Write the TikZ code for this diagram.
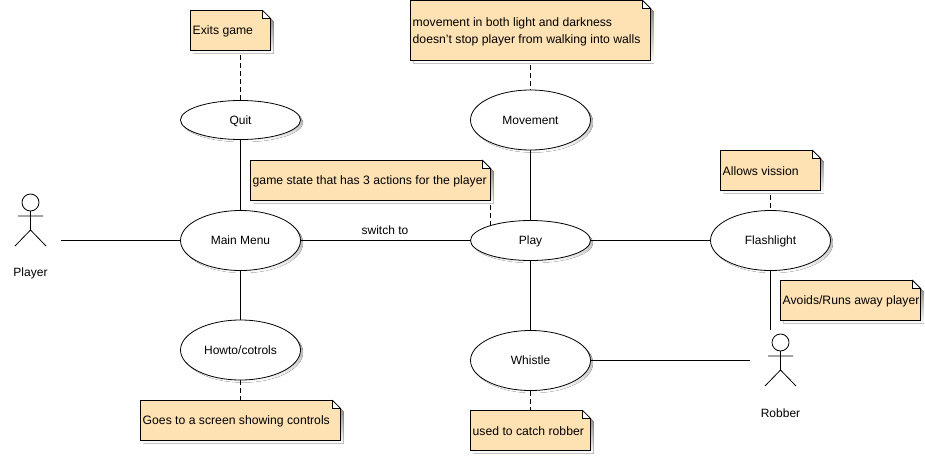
\documentclass[tikz,border=0pt]{standalone}
\usepackage{fontspec}
\setmainfont{Liberation Sans}
\usetikzlibrary{shapes.geometric}
\definecolor{notefill}{HTML}{FFE2B4}
\definecolor{shade}{HTML}{D2D2D2}
\tikzset{
  assoc/.style={draw=black,line width=1pt},
  anchorline/.style={draw=black,line width=1pt,dash pattern=on 5pt off 3pt},
  usecase/.style={ellipse,draw=black,fill=white,line width=.8pt,inner sep=0pt,text height=8.6pt,text depth=0pt,font=\fontsize{12}{14}\selectfont},
  notetext/.style={rectangle,anchor=west,inner xsep=2pt,inner ysep=0pt,align=left,font=\fontsize{12.2}{17}\selectfont},
  actorbox/.style={rectangle,inner sep=0pt},
  actorname/.style={font=\fontsize{12}{14}\selectfont},
  edgelabel/.style={font=\fontsize{12}{14}\selectfont,inner sep=0pt},
  stick/.style={draw=black,line width=.8pt},
}
% name, x, y, w, h, text
\newcommand{\notebox}[6]{%
  \fill[shade] (#2+3,#3+3) -- ++(#4-8,0) -- ++(8,8) -- ++(0,#5-8) -- ++(-#4,0) -- cycle;
  \draw[fill=notefill,line width=.9pt] (#2,#3) -- ++(#4-8,0) -- ++(8,8) -- ++(0,#5-8) -- ++(-#4,0) -- cycle;
  \draw[fill=white,line width=.7pt] (#2+#4-8,#3) -- ++(8,8) -- ++(-8,0) -- cycle;
  \node[notetext] (#1) at (#2,#3+#5/2+1) {#6};
}
% name, x, y, w, h, text
\newcommand{\usecasenode}[6]{%
  \fill[shade] (#2+2.5,#3+2.5) ellipse [x radius=#4/2,y radius=#5/2];
  \node[usecase,minimum width=#4 pt,minimum height=#5 pt] (#1) at (#2,#3) {#6};
}
% head centre x, head centre y
\newcommand{\stickfigure}[2]{%
  \draw[stick] (#1,#2) circle [radius=8.5];
  \draw[stick] (#1,#2+8.5) -- (#1,#2+27.5) (#1-12.5,#2+13.5) -- (#1+12.5,#2+13.5)
    (#1-15.5,#2+43.5) -- (#1,#2+27.5) -- (#1+15.5,#2+43.5);
}
\begin{document}
\begin{tikzpicture}[x=1pt,y=-1pt]
\useasboundingbox (0,0) rectangle (925,455);
\fill[white] (0,0) rectangle (925,455);

% use cases
\usecasenode{quit}{240.5}{120}{120}{39}{Quit}
\usecasenode{mainmenu}{240.5}{240.5}{120}{60}{Main Menu}
\usecasenode{howto}{240.5}{350}{120}{60}{Howto/cotrols}
\usecasenode{movement}{530.5}{120}{120}{60}{Movement}
\usecasenode{play}{530.5}{240.5}{120}{40}{Play}
\usecasenode{whistle}{530.5}{360.5}{120}{60}{Whistle}
\usecasenode{flashlight}{770.5}{240.5}{120}{60}{Flashlight}

% notes
\notebox{noteexit}{190.5}{10.5}{80}{40}{Exits game}
\notebox{notemove}{410.5}{0.5}{240}{60}{movement in both light and darkness\\doesn't stop player from walking into walls}
\notebox{notestate}{250.5}{160.5}{240}{40}{game state that has 3 actions for the player}
\notebox{notevision}{720.5}{150.5}{100}{40}{Allows vission}
\notebox{noterun}{780.5}{280.5}{140}{40}{Avoids/Runs away player}
\notebox{notecontrols}{140.5}{400.5}{200}{40}{Goes to a screen showing controls}
\notebox{notecatch}{470.5}{410.5}{120}{40}{used to catch robber}

% actors
\stickfigure{30.5}{202.5}
\node[actorbox,minimum width=60pt,minimum height=100pt] (player) at (30.5,240.5) {};
\node[actorname] (playername) at (30.5,273) {Player};
\stickfigure{780.5}{342.5}
\node[actorbox,minimum width=60pt,minimum height=60pt] (robber) at (780.5,360.5) {};
\node[actorname] (robbername) at (780.5,413) {Robber};

% associations
\draw[assoc] (player.east) -- (mainmenu.west);
\draw[assoc] (mainmenu.east) -- (play.west);
\draw[assoc] (quit.south) -- (mainmenu.north);
\draw[assoc] (mainmenu.south) -- (howto.north);
\draw[assoc] (movement.south) -- (play.north);
\draw[assoc] (play.south) -- (whistle.north);
\draw[assoc] (play.east) -- (flashlight.west);
\draw[assoc] (flashlight.south) -- (flashlight.south |- robber.north);
\draw[assoc] (whistle.east) -- (robber.west);
\node[edgelabel] (switchlabel) at (385,230.5) {switch to};

% note anchors
\coordinate (exitport) at (240.5,55);
\coordinate (moveport) at (530.5,65);
\coordinate (stateport) at (490.5,205);
\coordinate (stateend) at (490.5,229);
\coordinate (visionport) at (770.5,195);
\coordinate (controlsport) at (240.5,400.5);
\coordinate (catchport) at (530.5,410.5);
\draw[anchorline] (exitport) -- (quit.north);
\draw[anchorline] (moveport) -- (movement.north);
\draw[anchorline] (stateport) -- (stateend);
\draw[anchorline] (visionport) -- (flashlight.north);
\draw[anchorline] (howto.south) -- (controlsport);
\draw[anchorline] (whistle.south) -- (catchport);
\end{tikzpicture}
\end{document}
